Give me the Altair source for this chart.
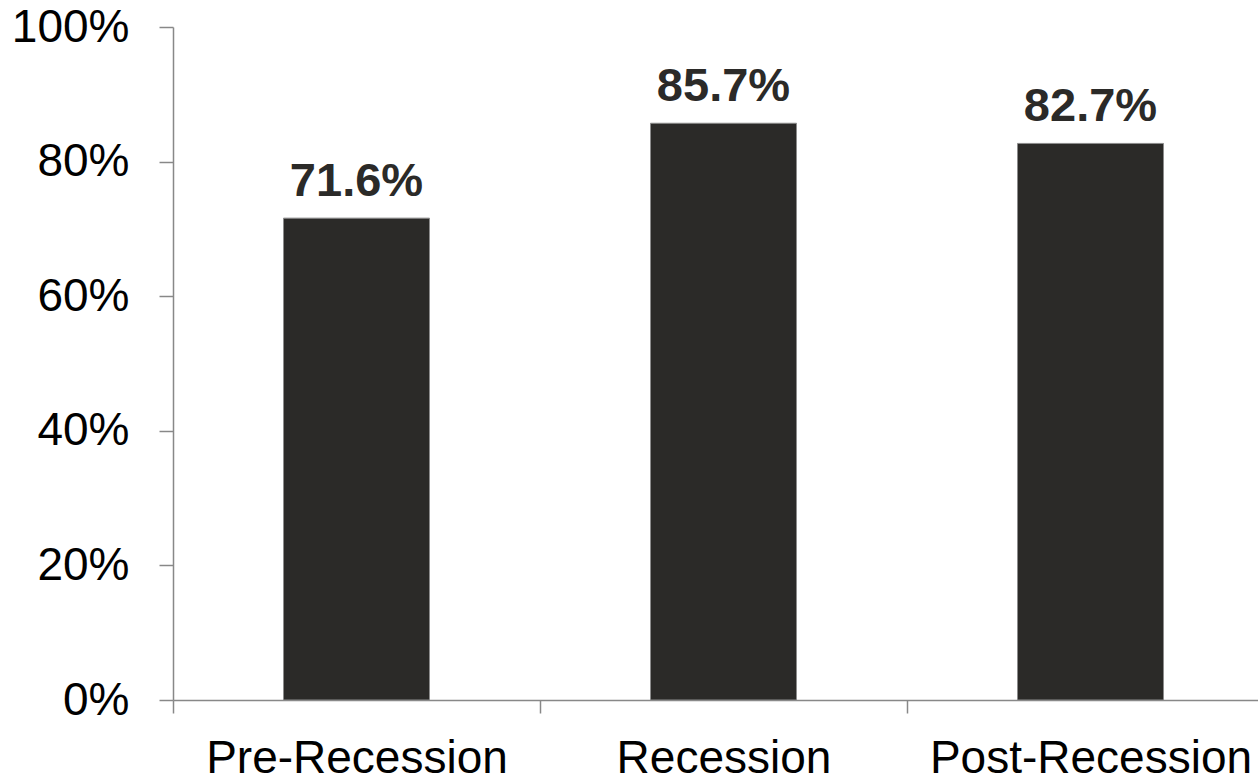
import altair as alt
import pandas as pd

# Share of the period, by recession phase
periods = ["Pre-Recession", "Recession", "Post-Recession"]
shares = [0.716, 0.857, 0.827]

df = pd.DataFrame({"period": periods, "share": shares})

FONT = "Liberation Sans"
DARK = "#2b2a28"
AXIS_GRAY = "#888888"

base = alt.Chart(df).encode(
    x=alt.X(
        "period:N",
        sort=periods,
        title=None,
        scale=alt.Scale(range=[0, 1101], paddingInner=0, paddingOuter=0),
        axis=alt.Axis(
            labelAngle=0,
            labelFont=FONT,
            labelFontSize=46,
            labelColor="black",
            labelPadding=23,
            labelLimit=0,
            tickBand="extent",
            tickSize=13,
            tickColor=AXIS_GRAY,
            tickWidth=1.5,
            domainColor=AXIS_GRAY,
            domainWidth=1.5,
            labelOverlap=False,
            labelBound=False,
            labelFlush=False,
        ),
    ),
    y=alt.Y(
        "share:Q",
        title=None,
        scale=alt.Scale(domain=[0, 1], nice=False),
        axis=alt.Axis(
            values=[0, 0.2, 0.4, 0.6, 0.8, 1.0],
            format=".0%",
            labelFont=FONT,
            labelFontSize=46,
            labelColor="black",
            labelPadding=30,
            tickSize=14,
            tickColor=AXIS_GRAY,
            tickWidth=1.5,
            domainColor=AXIS_GRAY,
            domainWidth=1.5,
            grid=False,
        ),
    ),
)

bars = base.mark_bar(width=146, color=DARK, stroke="#8c8c8c", strokeWidth=1)

labels = base.mark_text(
    font=FONT,
    fontSize=47,
    fontWeight="bold",
    color=DARK,
    baseline="alphabetic",
    dy=-22,
).encode(text=alt.Text("share:Q", format=".1%"))

chart = (
    alt.layer(bars, labels)
    .properties(
        width=1085,
        height=673,
        autosize=alt.AutoSizeParams(type="none"),
        padding={"left": 173, "top": 27, "right": 0, "bottom": 78},
        background="white",
    )
    .configure_view(stroke=None)
)

chart.save("out.html", embed_options={"renderer": "svg", "actions": False})
